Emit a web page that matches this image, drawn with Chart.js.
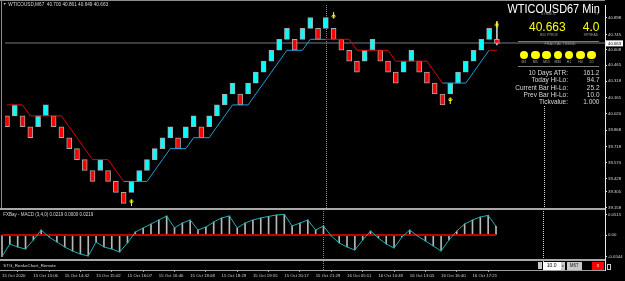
<!DOCTYPE html>
<html>
<head>
<meta charset="utf-8">
<title>WTICOUSD67 Renko</title>
<script src="https://cdn.jsdelivr.net/npm/chart.js@4.4.1/dist/chart.umd.min.js"></script>
<style>
  html, body { margin:0; padding:0; background:#000; }
  #wrap { position:relative; width:625px; height:281px; overflow:hidden; background:#000; font-family:"Liberation Sans", Arial, sans-serif; }
  #wrap canvas { position:absolute; left:0; }
  .t { position:absolute; white-space:nowrap; line-height:1; color:#d8d8d8; }
  .c { transform:translateX(-50%); }
  .sep { position:absolute; background:#a8a8a8; }
  .dot { position:absolute; width:8.6px; height:8.6px; border-radius:50%; background:#ffff00; top:50.7px; }
  .btn { position:absolute; top:262.3px; height:7.4px; background:#c8c8c8; color:#222; font-size:4.5px; line-height:7.4px; text-align:center; }
</style>
</head>
<body>
<div id="wrap">
  <canvas id="main" width="625" height="214" style="top:0"></canvas>
  <canvas id="macd" width="625" height="72" style="top:209px"></canvas>

  <div class="sep" style="left:0;top:0;width:605px;height:1px;background:#8c8c8c"></div>
  <div class="sep" style="left:1px;top:0;width:1px;height:208px;background:#8c8c8c"></div>
  <div class="sep" style="left:0;top:208px;width:605px;height:2px"></div>
  <div class="sep" style="left:0;top:259px;width:605px;height:2px"></div>

  <div class="t" style="left:3px;top:3px;font-size:3.5px">▼</div>
  <div class="t" style="left:8.3px;top:2.7px;font-size:4.7px">WTICOUSD,M67&nbsp; 40.700 40.861 40.649 40.663</div>

  <div class="t" style="right:25.5px;top:1.6px;font-size:13px;color:#fff;transform:scaleX(0.84);transform-origin:right">WTICOUSD67 Min</div>
  <div class="t c" style="left:548.5px;top:12.8px;font-size:3.6px;color:#9a9a9a">SYMBOL</div>
  <div class="t c" style="left:597px;top:12.8px;font-size:3.6px;color:#9a9a9a">TF</div>
  <div class="t" style="left:529px;top:21.3px;font-size:12px;color:#ffff00">40.663</div>
  <div class="t" style="right:25.5px;top:21.3px;font-size:12px;color:#ffff00">4.0</div>
  <div class="t c" style="left:549px;top:33.8px;font-size:3.6px;color:#9a9a9a">BID PRICE</div>
  <div class="t c" style="left:591px;top:33.8px;font-size:3.6px;color:#9a9a9a">SPREAD</div>
  <div class="sep" style="left:518px;top:41px;width:81px;height:1px;background:#7a7a7a"></div>
  <div class="t c" style="left:560px;top:43.4px;font-size:3.8px;color:#9a9a9a">FRACTAL TREND</div>
  <div id="fractals"></div>
  <div class="sep" style="left:518px;top:66px;width:81px;height:1px;background:#7a7a7a"></div>
  <div id="stats"></div>

  <div class="t" style="left:3.3px;top:213.3px;font-size:4.5px">FXBay - MACD (3,4,0) 0.0219 0.0000 0.0219</div>
  <div class="t" style="left:3.3px;top:263.8px;font-size:4.4px">STG_RenkoChart_Remote</div>

  <div class="btn" style="left:538.3px;width:3.4px;height:7px"></div>
  <div class="btn" style="left:542.7px;width:18px;background:#fff;color:#000;font-size:5px">10.0</div>
  <div class="btn" style="left:561px;width:3.5px;font-size:4px">v</div>
  <div class="btn" style="left:566.7px;width:15px">M67</div>
  <div class="btn" style="left:591.7px;width:12.3px;background:#ff0000;color:#fff">x</div>
  <div class="btn" style="left:607.3px;top:263.7px;width:1.6px;height:4px;background:#000;border:0.5px solid #ccc"></div>
</div>

<script>
// renko bricks (price, brick size 0.10)
const brickOpen  = [40.0,40.0,40.0,39.9,39.9,40.0,40.0,39.9,39.8,39.7,39.6,39.5,39.5,39.5,39.4,39.3,
                    39.3,39.4,39.5,39.6,39.7,39.8,39.8,39.8,39.9,39.9,39.9,40.0,40.1,40.2,40.2,40.2,
                    40.3,40.4,40.5,40.6,40.7,40.7,40.7,40.8,40.8,40.8,40.8,40.7,40.6,40.5,40.5,40.6,
                    40.6,40.5,40.4,40.4,40.5,40.5,40.4,40.3,40.2,40.2,40.3,40.4,40.5,40.6,40.7,40.700];
const brickClose = [39.9,40.1,39.9,39.8,40.0,40.1,39.9,39.8,39.7,39.6,39.5,39.4,39.6,39.4,39.3,39.2,
                    39.4,39.5,39.6,39.7,39.8,39.9,39.7,39.9,40.0,39.8,40.0,40.1,40.2,40.3,40.1,40.3,
                    40.4,40.5,40.6,40.7,40.8,40.6,40.8,40.9,40.7,40.9,40.7,40.6,40.5,40.4,40.6,40.7,
                    40.5,40.4,40.3,40.5,40.6,40.4,40.3,40.2,40.1,40.3,40.4,40.5,40.6,40.7,40.8,40.663];
const lastHigh = 40.861;
const lastLow = 40.649;
const bidPrice = 40.663;

// trailing level line, trend 1 = up (blue), -1 = down (red)
const trailLevel = [40.1,40.1,40.1,40.0,40.0,40.0,40.0,40.0,39.9,39.8,39.7,39.6,39.6,39.6,39.5,39.4,
                    39.4,39.4,39.4,39.5,39.6,39.7,39.7,39.7,39.8,39.8,39.8,39.9,40.0,40.1,40.1,40.1,
                    40.2,40.3,40.4,40.5,40.6,40.6,40.6,40.7,40.7,40.7,40.7,40.7,40.7,40.6,40.6,40.6,
                    40.6,40.6,40.5,40.5,40.5,40.5,40.5,40.4,40.3,40.3,40.3,40.3,40.4,40.5,40.6,40.6];
const trailTrend = [-1,-1,-1,-1,-1,-1,-1,-1,-1,-1,-1,-1,-1,-1,-1,-1,
                    1,1,1,1,1,1,1,1,1,1,1,1,1,1,1,1,1,1,1,1,1,1,1,1,1,1,
                    -1,-1,-1,-1,-1,-1,-1,-1,-1,-1,-1,-1,-1,-1,-1,
                    1,1,1,1,1,1,
                    -1];

// fractal arrows
const arrowDownIdx = [42, 63];
const arrowDownPrice = [40.92, 40.84];
const arrowUpIdx = [16, 57];
const arrowUpPrice = [39.21, 40.14];

// MACD histogram / signal
const macdValues = [-0.0544,-0.0225,-0.030,-0.035,-0.0125,0.0125,-0.005,-0.0175,-0.030,-0.040,-0.0475,-0.0525,-0.0175,-0.030,-0.035,-0.0425,
                    -0.020,0.0075,0.0175,0.0275,0.0375,0.0475,0.0175,0.030,0.0375,0.0125,0.020,0.0325,0.0425,0.0475,0.0175,0.030,
                    0.0375,0.0425,0.0465,0.050,0.0515,0.0225,0.030,0.0375,0.0125,0.0225,-0.0025,-0.020,-0.030,-0.0375,-0.0125,0.010,
                    -0.0075,-0.0225,-0.0325,-0.005,0.0125,-0.0025,-0.015,-0.0275,-0.040,-0.0125,0.010,0.0275,0.0375,0.045,0.049,0.0219];

// axes
const priceTicks = [40.898,40.745,40.608,40.465,40.318,40.165,40.020,39.868,39.718,39.570,39.428,39.305,39.158];
const macdTicks = [0.0515, 0, -0.0544];
const macdTickLabels = ['0.0515', '0.00', '-0.0544'];
const timeTickIdx = [0,4,8,12,16,20,24,28,32,36,40,44,48,52,56,60];
const timeLabels = ['15 Oct 2020','15 Oct 13:06','15 Oct 14:42','15 Oct 15:02','15 Oct 16:07','15 Oct 16:46',
                    '15 Oct 18:08','15 Oct 18:29','15 Oct 19:55','15 Oct 20:17','15 Oct 21:29','16 Oct 05:11',
                    '16 Oct 10:49','16 Oct 13:05','16 Oct 16:40','16 Oct 17:21'];
const sessionBreakIdx = 41;
const periodIdx = 69;

// info panel
const fractalFrames = ['M1','M5','M15','M30','H1','H4','D1'];
const statLabels = ['10 Days ATR:','Today Hi-Lo:','Current Bar Hi-Lo:','Prev Bar Hi-Lo:','Tickvalue:'];
const statValues = ['161.2','94.7','25.2','10.0','1.000'];

const X_MIN = -0.255, X_MAX = 76.9;
const UP = '#00ffff', DOWN = '#ff0000';

// --- info panel ---
const fr = document.getElementById('fractals');
fractalFrames.forEach((f, i) => {
  const cx = 524 + i * 11.28;
  fr.insertAdjacentHTML('beforeend',
    `<div class="dot" style="left:${cx - 4.3}px"></div>` +
    `<div class="t c" style="left:${cx}px;top:60.9px;font-size:3.5px;color:#a8a8a8">${f}</div>`);
});
const st = document.getElementById('stats');
statLabels.forEach((l, i) => {
  const top = [72.7, 80.3, 87.7, 94.7, 101.7][i] - 3.2;
  st.insertAdjacentHTML('beforeend',
    `<div class="t" style="right:57px;top:${top}px;font-size:6.5px">${l}</div>` +
    `<div class="t" style="right:25.5px;top:${top}px;font-size:6.5px">${statValues[i]}</div>`);
});

Chart.defaults.font.family = '"Liberation Sans", Arial, sans-serif';

// small MT4-style arrow glyph
function arrowImg(up) {
  const c = document.createElement('canvas');
  c.width = 5; c.height = 7;
  const g = c.getContext('2d');
  g.strokeStyle = '#ffff00'; g.lineWidth = 1;
  g.beginPath();
  if (up) { g.moveTo(2.5, 7); g.lineTo(2.5, 0.5); g.moveTo(0.5, 3); g.lineTo(2.5, 0.8); g.lineTo(4.5, 3); g.moveTo(1, 3.5); g.lineTo(4, 3.5); }
  else    { g.moveTo(2.5, 0); g.lineTo(2.5, 6.5); g.moveTo(0.5, 4); g.lineTo(2.5, 6.2); g.lineTo(4.5, 4); g.moveTo(1, 3.5); g.lineTo(4, 3.5); }
  g.stroke();
  return c;
}

function dottedV(ctx, x, y0, y1, color) {
  ctx.fillStyle = color;
  for (let y = y0; y < y1; y += 2) ctx.fillRect(x, y, 1, 1);
}

const mainDecor = {
  id: 'mainDecor',
  beforeDatasetsDraw(chart) {
    const { ctx, chartArea: a, scales: { x, y } } = chart;
    ctx.save();
    const by = Math.round(y.getPixelForValue(bidPrice));
    ctx.fillStyle = '#3a3e44';
    ctx.fillRect(a.left, by - 1, a.right - a.left, 2);
    dottedV(ctx, Math.round(x.getPixelForValue(sessionBreakIdx)), a.top, a.bottom, '#8a8a8a');
    dottedV(ctx, Math.round(x.getPixelForValue(periodIdx)), 106, a.bottom, '#d0d0d0');
    ctx.restore();
  },
  afterDraw(chart) {
    const { ctx, chartArea: a, scales: { y } } = chart;
    const by = y.getPixelForValue(bidPrice);
    ctx.save();
    ctx.fillStyle = '#fff';
    ctx.fillRect(a.right + 1, by - 3, 17, 6);
    ctx.fillStyle = '#000';
    ctx.font = '4.3px "Liberation Sans", Arial';
    ctx.textBaseline = 'middle';
    ctx.fillText(bidPrice.toFixed(3), a.right + 3, by + 0.3);
    ctx.restore();
  }
};

const macdDecor = {
  id: 'macdDecor',
  beforeDatasetsDraw(chart) {
    const { ctx, chartArea: a, scales: { x } } = chart;
    ctx.save();
    dottedV(ctx, Math.round(x.getPixelForValue(sessionBreakIdx)), a.top, a.bottom, '#8a8a8a');
    dottedV(ctx, Math.round(x.getPixelForValue(periodIdx)), a.top, a.bottom - 8, '#d0d0d0');
    ctx.restore();
  }
};

function noPad(s) { s.paddingTop = 0; s.paddingBottom = 0; s.paddingLeft = 0; s.paddingRight = 0; }

// --- main renko chart ---
new Chart(document.getElementById('main'), {
  type: 'bar',
  data: {
    datasets: [
      {
        type: 'bar', order: 4, grouped: false, barThickness: 1,
        data: [{ x: brickOpen.length - 1, y: [lastLow, lastHigh] }],
        backgroundColor: '#c8c8c8'
      },
      {
        type: 'bar', order: 3, grouped: false, barThickness: 5,
        data: brickOpen.map((o, i) => ({ x: i, y: [o, brickClose[i]] })),
        backgroundColor: brickOpen.map((o, i) => brickClose[i] > o ? UP : DOWN),
        borderColor: '#a8a8a8', borderWidth: 1, borderSkipped: false
      },
      {
        type: 'line', order: 2,
        data: trailLevel.map((v, i) => ({ x: i, y: v })),
        borderWidth: 1, pointRadius: 0, borderColor: '#e00000',
        segment: { borderColor: c => trailTrend[c.p1DataIndex] > 0 ? '#1e9fdc' : '#e00000' }
      },
      {
        type: 'scatter', order: 1,
        data: arrowDownIdx.map((v, i) => ({ x: v, y: arrowDownPrice[i] })),
        pointStyle: arrowImg(false)
      },
      {
        type: 'scatter', order: 1,
        data: arrowUpIdx.map((v, i) => ({ x: v, y: arrowUpPrice[i] })),
        pointStyle: arrowImg(true)
      }
    ]
  },
  options: {
    responsive: false, animation: false, events: [],
    layout: { padding: { left: 0, right: 0, top: 0, bottom: 6 } },
    plugins: { legend: { display: false }, tooltip: { enabled: false } },
    scales: {
      x: { type: 'linear', min: X_MIN, max: X_MAX, offset: false, display: false },
      y: {
        type: 'linear', position: 'right', min: 39.157, max: 41.014, beginAtZero: false,
        afterBuildTicks: s => { s.ticks = priceTicks.map(v => ({ value: v })); },
        afterFit: s => { s.width = 20; noPad(s); },
        ticks: { color: '#d8d8d8', font: { size: 4.3 }, padding: 1, autoSkip: false, callback: v => v.toFixed(3) },
        grid: { drawOnChartArea: false, color: '#d8d8d8', tickLength: 2 },
        border: { color: '#e8e8e8' }
      }
    }
  },
  plugins: [mainDecor]
});

// --- MACD sub-window ---
new Chart(document.getElementById('macd'), {
  type: 'bar',
  data: {
    datasets: [
      {
        type: 'bar', order: 3, grouped: false, barThickness: 1,
        data: macdValues.map((v, i) => ({ x: i, y: v })),
        backgroundColor: '#b8b8b8'
      },
      {
        type: 'line', order: 2,
        data: macdValues.map((v, i) => ({ x: i, y: 0 })),
        borderColor: '#c00000', borderWidth: 2, pointRadius: 0
      },
      {
        type: 'line', order: 1,
        data: macdValues.map((v, i) => ({ x: i, y: v })),
        borderColor: '#1fb0b0', borderWidth: 1, pointRadius: 0
      }
    ]
  },
  options: {
    responsive: false, animation: false, events: [],
    layout: { padding: 0 },
    plugins: { legend: { display: false }, tooltip: { enabled: false } },
    scales: {
      x: {
        type: 'linear', min: X_MIN, max: X_MAX, offset: false, position: 'bottom',
        afterBuildTicks: s => { s.ticks = timeTickIdx.map(v => ({ value: v })); },
        afterFit: s => { s.height = 11; noPad(s); },
        ticks: { align: 'start', color: '#d0d0d0', font: { size: 4.3 }, padding: 1, maxRotation: 0, autoSkip: false,
                 callback: (v, i) => timeLabels[i] },
        grid: { drawOnChartArea: false, color: '#a0a0a0', tickLength: 2 },
        border: { color: '#a0a0a0' }
      },
      y: {
        type: 'linear', position: 'right', min: -0.0875, max: 0.065, beginAtZero: false,
        afterBuildTicks: s => { s.ticks = macdTicks.map(v => ({ value: v })); },
        afterFit: s => { s.width = 20; noPad(s); },
        ticks: { color: '#d8d8d8', font: { size: 4.3 }, padding: 1, autoSkip: false, callback: (v, i) => macdTickLabels[i] },
        grid: { drawOnChartArea: false, color: '#d8d8d8', tickLength: 2 },
        border: { color: '#e8e8e8' }
      }
    }
  },
  plugins: [macdDecor]
});
</script>
</body>
</html>
